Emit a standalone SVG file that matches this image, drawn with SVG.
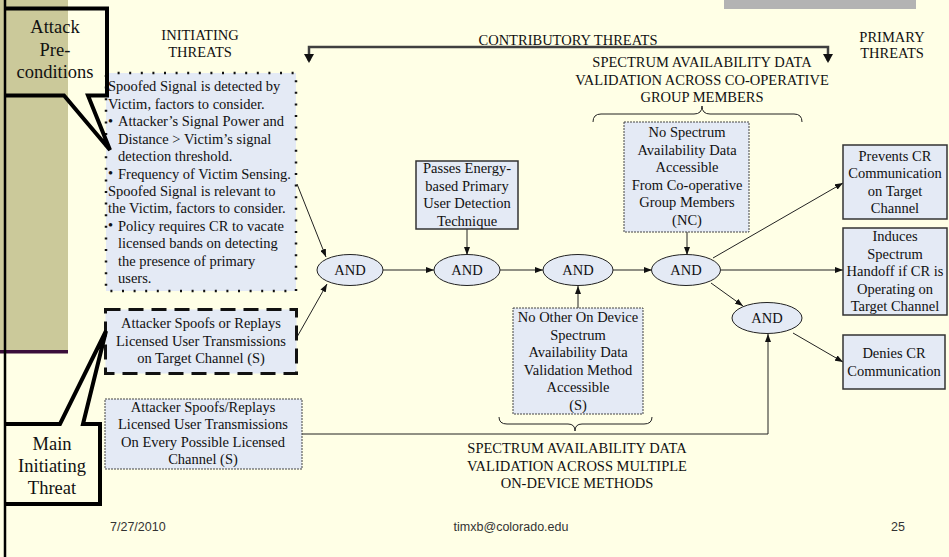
<svg xmlns="http://www.w3.org/2000/svg" width="949" height="557" viewBox="0 0 949 557">
  <style>
    .t { font-family: "Liberation Serif", "Times New Roman", serif; font-size: 14.5px; fill: #111; }
    .c { text-anchor: middle; }
    .big { font-size: 18.5px; }
    .foot { font-family: "Liberation Sans", Arial, sans-serif; font-size: 12.5px; fill: #333; }
    .box { fill: #E4EAF5; }
    .solid { stroke: #333; stroke-width: 1.5; }
    .thin { stroke: #444; stroke-width: 1; stroke-dasharray: 2 1; }
    .gate { fill: #E4EAF5; stroke: #222; stroke-width: 1; }
    .conn { stroke: #222; stroke-width: 1; fill: none; }
    .callout { fill: none; stroke: #000; stroke-width: 4; stroke-linejoin: miter; }
  </style>
  <defs>
    <marker id="ah" viewBox="0 0 8 6" refX="8" refY="3" markerWidth="8" markerHeight="6" markerUnits="userSpaceOnUse" orient="auto">
      <path d="M0,0 L8,3 L0,6 Z" fill="#111"/>
    </marker>
    <marker id="ahBig" viewBox="0 0 10 8" refX="10" refY="4" markerWidth="10" markerHeight="8" markerUnits="userSpaceOnUse" orient="auto">
      <path d="M0,0 L10,4 L0,8 Z" fill="#111"/>
    </marker>
  </defs>

  <!-- slide background -->
  <rect x="0" y="0" width="949" height="557" fill="#FFFFE6"/>
  <rect x="0" y="0" width="68" height="351" fill="#CBC99A"/>
  <rect x="0" y="350" width="68" height="3.5" fill="#3A0E3A"/>
  <line x1="5" y1="0" x2="5" y2="557" stroke="#000" stroke-width="2.5"/>
  <rect x="724" y="0" width="192" height="9" fill="#B3B3B3"/>

  <!-- section headings -->
  <g id="headings">
    <text class="t c" x="200" y="40">INITIATING</text>
    <text class="t c" x="200" y="57">THREATS</text>
    <text class="t c" x="568" y="45">CONTRIBUTORY THREATS</text>
    <text class="t c" x="892" y="42">PRIMARY</text>
    <text class="t c" x="892" y="58">THREATS</text>
    <text class="t c" x="702" y="67">SPECTRUM AVAILABILITY DATA</text>
    <text class="t c" x="702" y="84.5">VALIDATION ACROSS CO-OPERATIVE</text>
    <text class="t c" x="702" y="102">GROUP MEMBERS</text>
    <text class="t c" x="577" y="453">SPECTRUM AVAILABILITY DATA</text>
    <text class="t c" x="577" y="470.5">VALIDATION ACROSS MULTIPLE</text>
    <text class="t c" x="577" y="488">ON-DEVICE METHODS</text>
  </g>

  <!-- span bar and braces -->
  <g id="spans">
    <polyline points="309,61 309,47 828,47 828,61" fill="none" stroke="#404040" stroke-width="2.5"/>
    <path d="M304,54 L314,54 L309,63 Z" fill="#111"/>
    <path d="M823,54 L833,54 L828,63 Z" fill="#111"/>
    <path d="M593,122 Q593,114 601,114 L694,114 Q702,114 702,106 Q702,114 710,114 L794,114 Q802,114 802,122" fill="none" stroke="#222" stroke-width="1"/>
    <path d="M499,417 Q499,424 507,424 L568,424 Q575,424 575,431 Q575,424 582,424 L644,424 Q652,424 652,417" fill="none" stroke="#222" stroke-width="1"/>
  </g>

  <!-- connectors -->
  <g id="connectors">
    <line class="conn" x1="297" y1="184" x2="326" y2="257" marker-end="url(#ah)"/>
    <line class="conn" x1="297" y1="337" x2="327" y2="284" marker-end="url(#ah)"/>
    <line class="conn" x1="383" y1="270" x2="434" y2="270" marker-end="url(#ah)"/>
    <line class="conn" x1="467" y1="229" x2="467" y2="255" marker-end="url(#ah)"/>
    <line class="conn" x1="500" y1="270" x2="543" y2="270" marker-end="url(#ah)"/>
    <line class="conn" x1="578" y1="308" x2="578" y2="286" marker-end="url(#ah)"/>
    <line class="conn" x1="613" y1="270" x2="652" y2="270" marker-end="url(#ah)"/>
    <line class="conn" x1="687" y1="232" x2="687" y2="255" marker-end="url(#ah)"/>
    <line class="conn" x1="713" y1="258" x2="843" y2="183" marker-end="url(#ah)"/>
    <line class="conn" x1="721" y1="270" x2="843" y2="270" marker-end="url(#ah)"/>
    <line class="conn" x1="711" y1="283" x2="743" y2="306" marker-end="url(#ah)"/>
    <line class="conn" x1="793" y1="333" x2="843" y2="362" marker-end="url(#ah)"/>
    <polyline class="conn" points="302,434 768,434 768,334" marker-end="url(#ah)"/>
  </g>

  <!-- initiating threats -->
  <g id="preconditions">
    <rect class="box" x="106" y="73" width="190" height="218" fill="#E4EAF5" stroke="#111" stroke-width="2.5" stroke-dasharray="2 9.6"/>
    <text class="t" x="108" y="91">Spoofed Signal is detected by</text>
    <text class="t" x="108" y="108.5">Victim, factors to consider.</text>
    <text class="t" x="108" y="125.5" font-size="10px">•</text>
    <text class="t" x="118" y="126">Attacker’s Signal Power and</text>
    <text class="t" x="118" y="143.5">Distance &gt; Victim’s signal</text>
    <text class="t" x="118" y="161">detection threshold.</text>
    <text class="t" x="108" y="178" font-size="10px">•</text>
    <text class="t" x="118" y="178.5">Frequency of Victim Sensing.</text>
    <text class="t" x="108" y="196">Spoofed Signal is relevant to</text>
    <text class="t" x="108" y="213">the Victim, factors to consider.</text>
    <text class="t" x="108" y="230" font-size="10px">•</text>
    <text class="t" x="118" y="230.5">Policy requires CR to vacate</text>
    <text class="t" x="118" y="248">licensed bands on detecting</text>
    <text class="t" x="118" y="265.5">the presence of primary</text>
    <text class="t" x="118" y="283">users.</text>
  </g>

  <g id="spoof-target">
    <rect class="box" x="105.5" y="309.5" width="191" height="64" stroke="#111" stroke-width="3" stroke-dasharray="15 8"/>
    <text class="t c" x="201" y="328">Attacker Spoofs or Replays</text>
    <text class="t c" x="201" y="345.5">Licensed User Transmissions</text>
    <text class="t c" x="201" y="363">on Target Channel (S)</text>
  </g>

  <g id="spoof-every">
    <rect class="box thin" x="105" y="399" width="197" height="70"/>
    <text class="t c" x="203" y="411.5">Attacker Spoofs/Replays</text>
    <text class="t c" x="203" y="429">Licensed User Transmissions</text>
    <text class="t c" x="203" y="446.5">On Every Possible Licensed</text>
    <text class="t c" x="203" y="464">Channel (S)</text>
  </g>

  <!-- contributory threats -->
  <g id="energy-detection">
    <rect class="box solid" x="416" y="161" width="102" height="68"/>
    <text class="t c" x="467" y="173">Passes Energy-</text>
    <text class="t c" x="467" y="190.5">based Primary</text>
    <text class="t c" x="467" y="208">User Detection</text>
    <text class="t c" x="467" y="225.5">Technique</text>
  </g>

  <g id="no-on-device">
    <rect class="box thin" x="513" y="308" width="130" height="106"/>
    <text class="t c" x="578" y="322">No Other On Device</text>
    <text class="t c" x="578" y="339.5">Spectrum</text>
    <text class="t c" x="578" y="357">Availability Data</text>
    <text class="t c" x="578" y="374.5">Validation Method</text>
    <text class="t c" x="578" y="392">Accessible</text>
    <text class="t c" x="578" y="409.5">(S)</text>
  </g>

  <g id="no-cooperative">
    <rect class="box thin" x="624" y="122" width="125" height="110"/>
    <text class="t c" x="687" y="137">No Spectrum</text>
    <text class="t c" x="687" y="154.5">Availability Data</text>
    <text class="t c" x="687" y="172">Accessible</text>
    <text class="t c" x="687" y="189.5">From Co-operative</text>
    <text class="t c" x="687" y="207">Group Members</text>
    <text class="t c" x="687" y="224.5">(NC)</text>
  </g>

  <!-- AND gates -->
  <g id="and1"><ellipse class="gate" cx="350" cy="270" rx="33" ry="15.5"/><text class="t c" x="350" y="275">AND</text></g>
  <g id="and2"><ellipse class="gate" cx="467" cy="270" rx="33" ry="15.5"/><text class="t c" x="467" y="275">AND</text></g>
  <g id="and3"><ellipse class="gate" cx="578" cy="270" rx="35" ry="15.5"/><text class="t c" x="578" y="275">AND</text></g>
  <g id="and4"><ellipse class="gate" cx="686" cy="270" rx="34.5" ry="15.5"/><text class="t c" x="686" y="275">AND</text></g>
  <g id="and5"><ellipse class="gate" cx="767" cy="318" rx="35" ry="15.5"/><text class="t c" x="767" y="323">AND</text></g>

  <!-- primary threats -->
  <g id="prevents">
    <rect class="box solid" x="843" y="145" width="104" height="74"/>
    <text class="t c" x="895" y="160.5">Prevents CR</text>
    <text class="t c" x="895" y="178">Communication</text>
    <text class="t c" x="895" y="195.5">on Target</text>
    <text class="t c" x="895" y="213">Channel</text>
  </g>

  <g id="handoff">
    <rect class="box solid" x="843" y="228" width="104" height="87"/>
    <text class="t c" x="895" y="241">Induces</text>
    <text class="t c" x="895" y="258.5">Spectrum</text>
    <text class="t c" x="895" y="276">Handoff if CR is</text>
    <text class="t c" x="895" y="293.5">Operating on</text>
    <text class="t c" x="895" y="311">Target Channel</text>
  </g>

  <g id="denies">
    <rect class="box solid" x="843" y="335" width="102" height="54"/>
    <text class="t c" x="894" y="358">Denies CR</text>
    <text class="t c" x="894" y="375.5">Communication</text>
  </g>

  <!-- callouts -->
  <g id="callout-preconditions">
    <path class="callout" d="M5,8.5 L107,8.5 L107,95.5 L88,95.5 L110,150 L64,95.5 L5,95.5"/>
    <text class="t c big" x="55" y="33">Attack</text>
    <text class="t c big" x="55" y="55.5">Pre-</text>
    <text class="t c big" x="55" y="78">conditions</text>
  </g>

  <g id="callout-main">
    <path class="callout" d="M5,424 L60,424 L106,331 L83,424 L100,424 L100,504 L5,504"/>
    <text class="t c big" x="52" y="449.5">Main</text>
    <text class="t c big" x="52" y="471.5">Initiating</text>
    <text class="t c big" x="52" y="493.5">Threat</text>
  </g>

  <!-- footer -->
  <g id="footer">
    <text class="foot" x="110" y="531">7/27/2010</text>
    <text class="foot" x="511" y="531" text-anchor="middle">timxb@colorado.edu</text>
    <text class="foot" x="891" y="531">25</text>
  </g>
</svg>
